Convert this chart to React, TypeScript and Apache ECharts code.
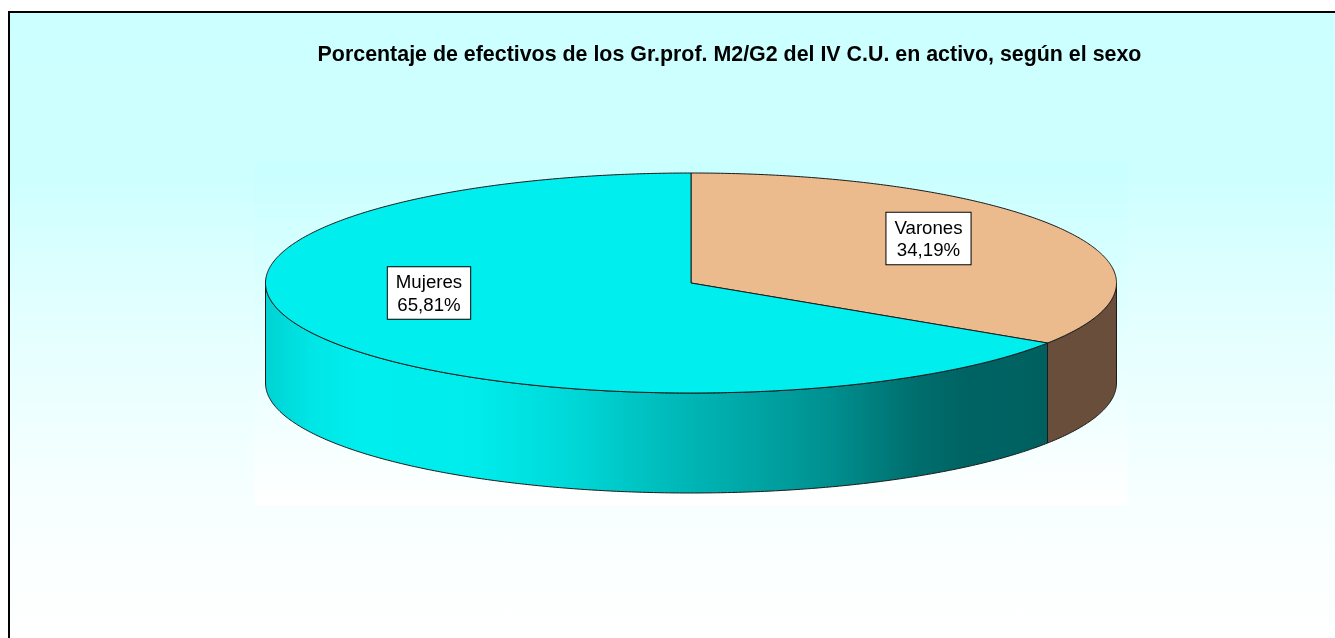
import React, { useEffect, useRef } from "react";
import * as echarts from "echarts";

const TITLE = "Porcentaje de efectivos de los Gr.prof. M2/G2 del IV C.U. en activo, según el sexo";
const categories = ["Varones", "Mujeres"];
const values = [34.19, 65.81];
const valueLabels = ["34,19%", "65,81%"];
const topColors = ["#EBBB8E", "#00EEEE"];
const labelOffsets = [[237.5, -44.5], [-262, 10]];

const CX = 691, CY = 283, RX = 425.5, RY = 110, DEPTH = 100;
const OUTLINE = "#1a1a1a";

const px = (deg: number) => CX + RX * Math.sin((deg * Math.PI) / 180);
const py = (deg: number, drop = 0) => CY - RY * Math.cos((deg * Math.PI) / 180) + drop;

function arc(a: number, b: number, drop = 0) {
  const n = Math.max(2, Math.ceil(Math.abs(b - a) * 2));
  const pts: number[][] = [];
  for (let i = 0; i <= n; i++) {
    const d = a + ((b - a) * i) / n;
    pts.push([px(d), py(d, drop)]);
  }
  return pts;
}

const cyanWall = () =>
  new echarts.graphic.LinearGradient(265, 0, 1048, 0, [
    { offset: 0, color: "#00D2D2" },
    { offset: 0.06, color: "#00E6E6" },
    { offset: 0.12, color: "#00EEEE" },
    { offset: 0.27, color: "#00ECEC" },
    { offset: 0.33, color: "#00E2E2" },
    { offset: 0.4, color: "#00D6D6" },
    { offset: 0.5, color: "#00BEBE" },
    { offset: 0.6, color: "#00AAAA" },
    { offset: 0.72, color: "#009090" },
    { offset: 0.83, color: "#006E6E" },
    { offset: 0.89, color: "#006464" },
    { offset: 1, color: "#006060" },
  ], true);

function App() {
  const ref = useRef<HTMLDivElement>(null);
  useEffect(() => {
    document.body.style.margin = "0";
    document.body.style.overflow = "hidden";
    const chart = echarts.init(ref.current!, null, { renderer: "svg" });
    const total = values.reduce((s, v) => s + v, 0);
    const angles = (i: number) => {
      const before = values.slice(0, i).reduce((s, v) => s + v, 0);
      return [(before / total) * 360, ((before + values[i]) / total) * 360];
    };
    const vGrad = (y0: number, y1: number, stops: [number, string][]) =>
      new echarts.graphic.LinearGradient(0, y0, 0, y1, stops.map(([offset, color]) => ({ offset, color })), true);

    chart.setOption({
      animation: false,
      title: {
        text: TITLE,
        left: 724.5,
        top: 38.5,
        textAlign: "center",
        textStyle: { fontFamily: "Liberation Sans", fontWeight: "bold", fontSize: 21.4, color: "#000" },
      },
      graphic: [
        {
          type: "rect", z: -10, silent: true,
          shape: { x: 9, y: 12, width: 1420, height: 720 },
          style: {
            stroke: "#000", lineWidth: 2,
            fill: vGrad(13, 638, [[0, "#CCFFFF"], [0.27, "#CEFFFF"], [0.47, "#E2FFFF"], [0.78, "#F7FFFF"], [1, "#FFFFFF"]]),
          },
        },
        {
          type: "rect", z: -9, silent: true,
          shape: { x: 254, y: 162, width: 874, height: 343 },
          style: { fill: vGrad(162, 505, [[0, "#C8FFFF"], [1, "#FFFFFF"]]) },
        },
      ],
      series: [
        {
          type: "custom",
          coordinateSystem: "none",
          silent: true,
          clip: false,
          data: categories.map((name, i) => ({ name, value: values[i] })),
          renderItem: (params: any) => {
            const i = params.dataIndex;
            const [a, b] = angles(i);
            const children: any[] = [];
            const wa = Math.max(a, 90), wb = Math.min(b, 270);
            if (wb > wa) {
              const topEdge = arc(wa, wb);
              const bottomEdge = arc(wb, wa, DEPTH);
              children.push({
                type: "polygon",
                shape: { points: [...topEdge, ...bottomEdge] },
                style: {
                  fill: i === 1 ? cyanWall() : "#684E3B",
                  stroke: OUTLINE, lineWidth: 1,
                },
              });
            }
            children.push({
              type: "polygon",
              shape: { points: [[CX, CY], ...arc(a, b)] },
              style: { fill: topColors[i], stroke: OUTLINE, lineWidth: 1, lineJoin: "round" },
            });
            return { type: "group", children };
          },
          z: 2,
        },
        {
          type: "custom",
          coordinateSystem: "none",
          silent: true,
          clip: false,
          data: categories.map((name, i) => ({ name, value: values[i] })),
          renderItem: (params: any) => {
            const i = params.dataIndex;
            return {
              type: "text",
              x: CX + labelOffsets[i][0],
              y: CY + labelOffsets[i][1],
              style: {
                text: `${categories[i]}\n${valueLabels[i]}`,
                fontFamily: "Liberation Sans",
                fontSize: 18.67,
                lineHeight: 22.7,
                fill: "#000",
                align: "center",
                verticalAlign: "middle",
                backgroundColor: "#fff",
                borderColor: "#000",
                borderWidth: 1,
                padding: [3, 8, 3, 8],
              },
            };
          },
          z: 3,
        },
      ],
    });
    return () => chart.dispose();
  }, []);
  return <div ref={ref} style={{ position: "fixed", left: 0, top: 0, width: 1335, height: 638 }} />;
}

export default App;
